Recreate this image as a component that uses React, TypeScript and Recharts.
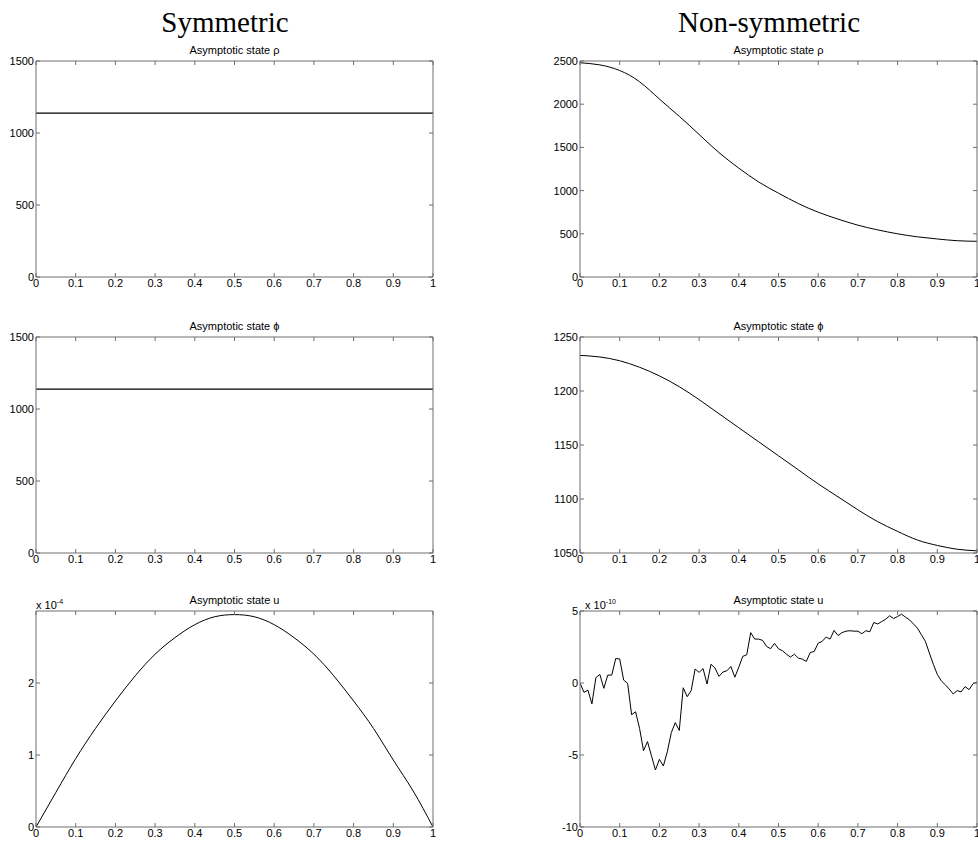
import React from 'react';
import { LineChart, Line, XAxis, YAxis } from 'recharts';

const xTicks = [0, 0.1, 0.2, 0.3, 0.4, 0.5, 0.6, 0.7, 0.8, 0.9, 1];

// Symmetric case
const constX = [0, 1];
const rhoSymValues = [1138, 1138];
const phiSymValues = [1138, 1138];

const smoothX = [0, 0.05, 0.1, 0.15, 0.2, 0.25, 0.3, 0.35, 0.4, 0.45, 0.5, 0.55, 0.6, 0.65, 0.7, 0.75, 0.8, 0.85, 0.9, 0.95, 1];
const uSymValues = [0, 0.48, 0.95, 1.37, 1.75, 2.1, 2.4, 2.63, 2.81, 2.92, 2.95, 2.92, 2.81, 2.63, 2.4, 2.1, 1.75, 1.37, 0.93, 0.5, 0];

// Non-symmetric case
const rhoNonValues = [2480, 2455, 2390, 2260, 2060, 1860, 1650, 1440, 1260, 1100, 970, 850, 750, 670, 600, 545, 500, 465, 440, 420, 413];
const phiNonValues = [1233, 1231.5, 1228, 1222, 1214, 1204, 1192, 1179, 1166, 1153, 1140, 1127, 1114, 1102, 1090, 1079, 1070, 1062, 1057, 1053.5, 1052];

const noisyX = [
  0, 0.01, 0.02, 0.03, 0.04, 0.05, 0.06, 0.07, 0.08, 0.09,
  0.1, 0.11, 0.12, 0.13, 0.14, 0.15, 0.16, 0.17, 0.18, 0.19,
  0.2, 0.21, 0.22, 0.23, 0.24, 0.25, 0.26, 0.27, 0.28, 0.29,
  0.3, 0.31, 0.32, 0.33, 0.34, 0.35, 0.36, 0.37, 0.38, 0.39,
  0.4, 0.41, 0.42, 0.43, 0.44, 0.45, 0.46, 0.47, 0.48, 0.49,
  0.5, 0.51, 0.52, 0.53, 0.54, 0.55, 0.56, 0.57, 0.58, 0.59,
  0.6, 0.61, 0.62, 0.63, 0.64, 0.65, 0.66, 0.67, 0.68, 0.69,
  0.7, 0.71, 0.72, 0.73, 0.74, 0.75, 0.76, 0.77, 0.78, 0.79,
  0.8, 0.81, 0.82, 0.83, 0.84, 0.85, 0.86, 0.87, 0.88, 0.89,
  0.9, 0.91, 0.92, 0.93, 0.94, 0.95, 0.96, 0.97, 0.98, 0.99, 1,
];
const uNonValues = [
  0, -0.65, -0.5, -1.45, 0.37, 0.6, -0.37, 0.55, 0.55, 1.7,
  1.67, 0.2, -0.02, -2.2, -2.0, -3.15, -4.7, -4.07, -5.05, -6.04,
  -5.3, -5.76, -4.77, -3.45, -2.75, -3.3, -0.33, -0.95, -0.53, 0.97,
  0.74, 1.0, -0.07, 1.3, 1.04, 0.46, 0.76, 0.85, 1.15, 0.4,
  1.1, 1.85, 1.96, 3.5, 3.05, 3.05, 2.96, 2.54, 2.38, 2.75,
  2.38, 2.24, 2.0, 1.8, 2.0, 1.73, 1.66, 1.5, 2.12, 2.19,
  2.77, 2.89, 3.19, 3.05, 3.65, 3.3, 3.5, 3.6, 3.63, 3.6,
  3.6, 3.42, 3.63, 3.56, 4.2, 4.1, 4.27, 4.43, 4.67, 4.48,
  4.62, 4.78, 4.57, 4.39, 4.1, 3.81, 3.35, 2.89, 2.08, 1.3,
  0.6, 0.15, -0.12, -0.42, -0.76, -0.53, -0.62, -0.25, -0.46, -0.05, 0.05,
];

const rhoTicksSym = [0, 500, 1000, 1500];
const rhoTicksNon = [0, 500, 1000, 1500, 2000, 2500];
const phiTicksNon = [1050, 1100, 1150, 1200, 1250];
const uTicksSym = [0, 1, 2];
const uTicksNon = [-10, -5, 0, 5];

const zip = (xs: number[], ys: number[]) => xs.map((x, i) => ({ x, y: ys[i] }));

const PW = 397;
const PH = 216;
const MT = 10;
const MR = 10;
const AX = '#6e6e6e';
const SANS = '"Liberation Sans", Arial, Helvetica, sans-serif';
const SERIF = '"Liberation Serif", "Times New Roman", serif';

const fmtX = (v: number) => (v === 0 ? '0' : v === 1 ? '1' : String(v));
const blank = () => '';

type PanelProps = {
  left: number;
  top: number;
  data: { x: number; y: number }[];
  yDomain: [number, number];
  yTicks: number[];
  curve?: 'linear' | 'natural';
  strokeWidth?: number;
};

function Panel({ left, top, data, yDomain, yTicks, curve, strokeWidth }: PanelProps) {
  const W = 40 + PW + 1 + MR;
  const H = MT + 1 + PH + 20;
  const tickStyle = { fill: '#000', fontSize: 11, fontFamily: SANS };
  return (
    <div style={{ position: 'absolute', left: left - 40, top: top - 1 - MT, width: W, height: H }}>
      <LineChart width={W} height={H} data={data} margin={{ top: MT, right: MR, bottom: 0, left: 0 }}>
        <XAxis
          xAxisId="b"
          dataKey="x"
          type="number"
          domain={[0, 1]}
          ticks={xTicks}
          interval={0}
          tickFormatter={fmtX}
          tickSize={-4}
          tickMargin={6}
          height={20}
          stroke={AX}
          tick={tickStyle}
          allowDataOverflow
        />
        <XAxis
          xAxisId="t"
          orientation="top"
          dataKey="x"
          type="number"
          domain={[0, 1]}
          ticks={xTicks}
          interval={0}
          tickFormatter={blank}
          tickSize={-4}
          height={1}
          stroke={AX}
          tick={tickStyle}
          allowDataOverflow
        />
        <YAxis
          yAxisId="l"
          type="number"
          domain={yDomain}
          ticks={yTicks}
          interval={0}
          width={40}
          tickSize={-4}
          tickMargin={6}
          stroke={AX}
          tick={tickStyle}
          allowDataOverflow
        />
        <YAxis
          yAxisId="r"
          orientation="right"
          type="number"
          domain={yDomain}
          ticks={yTicks}
          interval={0}
          width={1}
          tickSize={-4}
          tickFormatter={blank}
          stroke={AX}
          tick={tickStyle}
          allowDataOverflow
        />
        <Line
          xAxisId="b"
          yAxisId="l"
          dataKey="y"
          type={curve ?? 'natural'}
          stroke="#000"
          strokeWidth={strokeWidth ?? 1}
          dot={false}
          activeDot={false}
          isAnimationActive={false}
        />
      </LineChart>
    </div>
  );
}

const LX = 36;
const RX = 580;
const TOPS = [61, 337, 611];

export default function App() {
  const lc = LX + PW / 2;
  const rc = RX + PW / 2;
  return (
    <div
      style={{
        position: 'absolute',
        left: 0,
        top: 0,
        width: 978,
        height: 841,
        overflow: 'hidden',
        background: '#fff',
      }}
    >
      <Panel left={LX} top={TOPS[0]} data={zip(constX, rhoSymValues)} yDomain={[0, 1500]} yTicks={rhoTicksSym} curve="linear" strokeWidth={1.4} />
      <Panel left={LX} top={TOPS[1]} data={zip(constX, phiSymValues)} yDomain={[0, 1500]} yTicks={rhoTicksSym} curve="linear" strokeWidth={1.4} />
      <Panel left={LX} top={TOPS[2]} data={zip(smoothX, uSymValues)} yDomain={[0, 3]} yTicks={uTicksSym} />
      <Panel left={RX} top={TOPS[0]} data={zip(smoothX, rhoNonValues)} yDomain={[0, 2500]} yTicks={rhoTicksNon} />
      <Panel left={RX} top={TOPS[1]} data={zip(smoothX, phiNonValues)} yDomain={[1050, 1250]} yTicks={phiTicksNon} />
      <Panel left={RX} top={TOPS[2]} data={zip(noisyX, uNonValues)} yDomain={[-10, 5]} yTicks={uTicksNon} curve="linear" />

      <svg
        width={978}
        height={841}
        style={{ position: 'absolute', left: 0, top: 0, pointerEvents: 'none' }}
      >
        <text x={225} y={32} textAnchor="middle" fontFamily={SERIF} fontSize={29} fill="#000">
          Symmetric
        </text>
        <text x={769} y={32} textAnchor="middle" fontFamily={SERIF} fontSize={29} fill="#000">
          Non-symmetric
        </text>

        <text x={lc} y={TOPS[0] - 7} textAnchor="middle" fontFamily={SANS} fontSize={11} fill="#000">
          Asymptotic state ρ
        </text>
        <text x={lc} y={TOPS[1] - 7} textAnchor="middle" fontFamily={SANS} fontSize={11} fill="#000">
          Asymptotic state ϕ
        </text>
        <text x={lc} y={TOPS[2] - 7} textAnchor="middle" fontFamily={SANS} fontSize={11} fill="#000">
          Asymptotic state u
        </text>
        <text x={rc} y={TOPS[0] - 7} textAnchor="middle" fontFamily={SANS} fontSize={11} fill="#000">
          Asymptotic state ρ
        </text>
        <text x={rc} y={TOPS[1] - 7} textAnchor="middle" fontFamily={SANS} fontSize={11} fill="#000">
          Asymptotic state ϕ
        </text>
        <text x={rc} y={TOPS[2] - 7} textAnchor="middle" fontFamily={SANS} fontSize={11} fill="#000">
          Asymptotic state u
        </text>

        <text x={LX} y={TOPS[2] - 2} fontFamily={SANS} fontSize={11} fill="#000">
          x 10<tspan dy={-5} fontSize={7}>-4</tspan>
        </text>
        <text x={RX + 5} y={TOPS[2] - 2} fontFamily={SANS} fontSize={11} fill="#000">
          x 10<tspan dy={-5} fontSize={7}>-10</tspan>
        </text>
      </svg>
    </div>
  );
}
